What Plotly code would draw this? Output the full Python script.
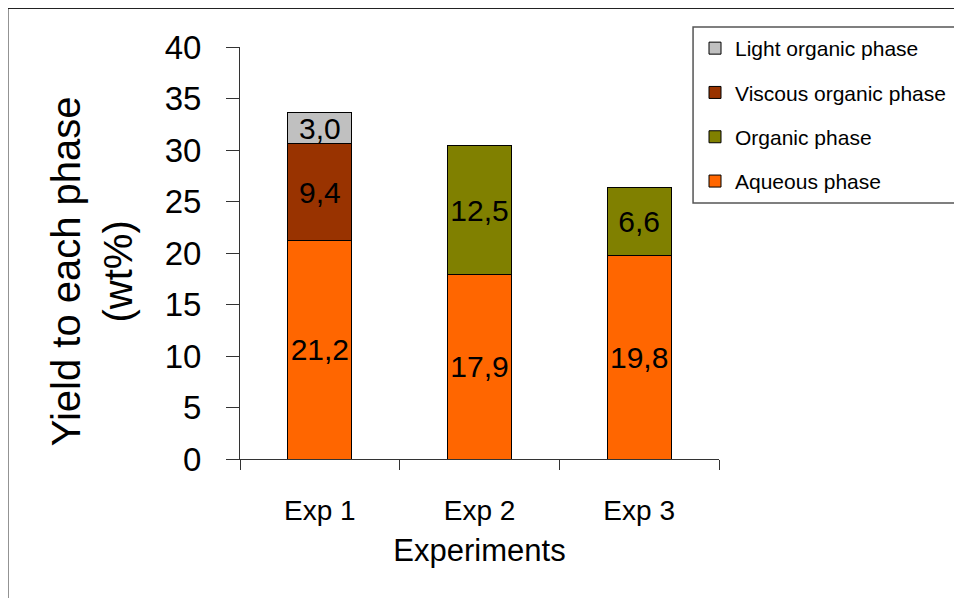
import plotly.graph_objects as go

categories = ["Exp 1", "Exp 2", "Exp 3"]
aqueous = [21.2, 17.9, 19.8]
organic = [None, 12.5, 6.6]
viscous = [9.4, None, None]
light = [3.0, None, None]
y_ticks = [0, 5, 10, 15, 20, 25, 30, 35, 40]

series = [
    ("Aqueous phase", aqueous, "#FF6600"),
    ("Organic phase", organic, "#808000"),
    ("Viscous organic phase", viscous, "#993300"),
    ("Light organic phase", light, "#C0C0C0"),
]

FONT = "Liberation Sans, Arial, sans-serif"

def fmt(v):
    return "" if v is None else f"{v:.1f}".replace(".", ",")

fig = go.Figure()
n = len(series)
for i, (name, vals, col) in enumerate(series):
    fig.add_trace(go.Bar(
        x=categories, y=vals, name=name,
        marker=dict(color=col, line=dict(color="black", width=1)),
        text=[fmt(v) for v in vals],
        textposition="inside", insidetextanchor="middle", textangle=0,
        textfont=dict(size=30, color="black", family=FONT),
        legendgroup=f"g{i}", legendrank=n - i,
        hoverinfo="name+y",
    ))

# page body adds an 8px offset; work in screen pixels minus 8
OFF = 8
W, H = 962 - OFF, 598 - OFF
L = 240 - OFF
T = 47 - OFF
R = W - (720 - OFF)
B = H - (459 - OFF)
pw, ph = W - L - R, H - T - B

def px_x(x):
    return (x - OFF - L) / pw

def px_y(y):
    return (H - B - (y - OFF)) / ph

fig.update_layout(
    width=W, height=H,
    margin=dict(l=L, r=R, t=T, b=B, pad=0),
    barmode="stack", bargap=0.6,
    plot_bgcolor="white", paper_bgcolor="white",
    font=dict(family=FONT, color="black"),
    uniformtext=dict(minsize=30, mode="show"),
    showlegend=True,
    legend=dict(
        x=px_x(695), y=px_y(28), xanchor="left", yanchor="top",
        font=dict(size=21, family=FONT, color="black"),
        bgcolor="rgba(0,0,0,0)", borderwidth=0,
        traceorder="grouped", tracegroupgap=14,
        itemclick=False, itemdoubleclick=False,
    ),
    xaxis=dict(
        type="category", tickson="boundaries",
        ticks="outside", ticklen=10, tickcolor="#333", tickwidth=1,
        showline=True, linecolor="#333", linewidth=1,
        tickfont=dict(size=28, family=FONT),
        ticklabelstandoff=26,
        title=dict(text="Experiments", font=dict(size=31, family=FONT), standoff=14),
        showgrid=False, zeroline=False,
    ),
    yaxis=dict(
        range=[0, 40], tickvals=y_ticks, ticktext=[str(t) for t in y_ticks],
        ticks="outside", ticklen=13, tickcolor="#333", tickwidth=1,
        showline=True, linecolor="#333", linewidth=1,
        tickfont=dict(size=33, family=FONT),
        ticklabelstandoff=18,
        showgrid=False, zeroline=False,
    ),
    annotations=[dict(
        text="Yield to each phase<br>(wt%)", textangle=-90,
        xref="paper", yref="paper", x=px_x(92), y=px_y(271),
        xanchor="center", yanchor="middle", showarrow=False,
        font=dict(size=40, family=FONT, color="black"),
    )],
    shapes=[
        dict(type="rect", xref="paper", yref="paper",
             x0=px_x(7), x1=px_x(1000), y0=px_y(8), y1=px_y(640),
             line=dict(color="#222", width=2), fillcolor="rgba(0,0,0,0)", layer="below"),
        dict(type="rect", xref="paper", yref="paper",
             x0=px_x(694), x1=px_x(1000), y0=px_y(27), y1=px_y(203),
             line=dict(color="#555", width=1.5), fillcolor="rgba(0,0,0,0)", layer="below"),
    ],
)

fig.write_html("out.html")
